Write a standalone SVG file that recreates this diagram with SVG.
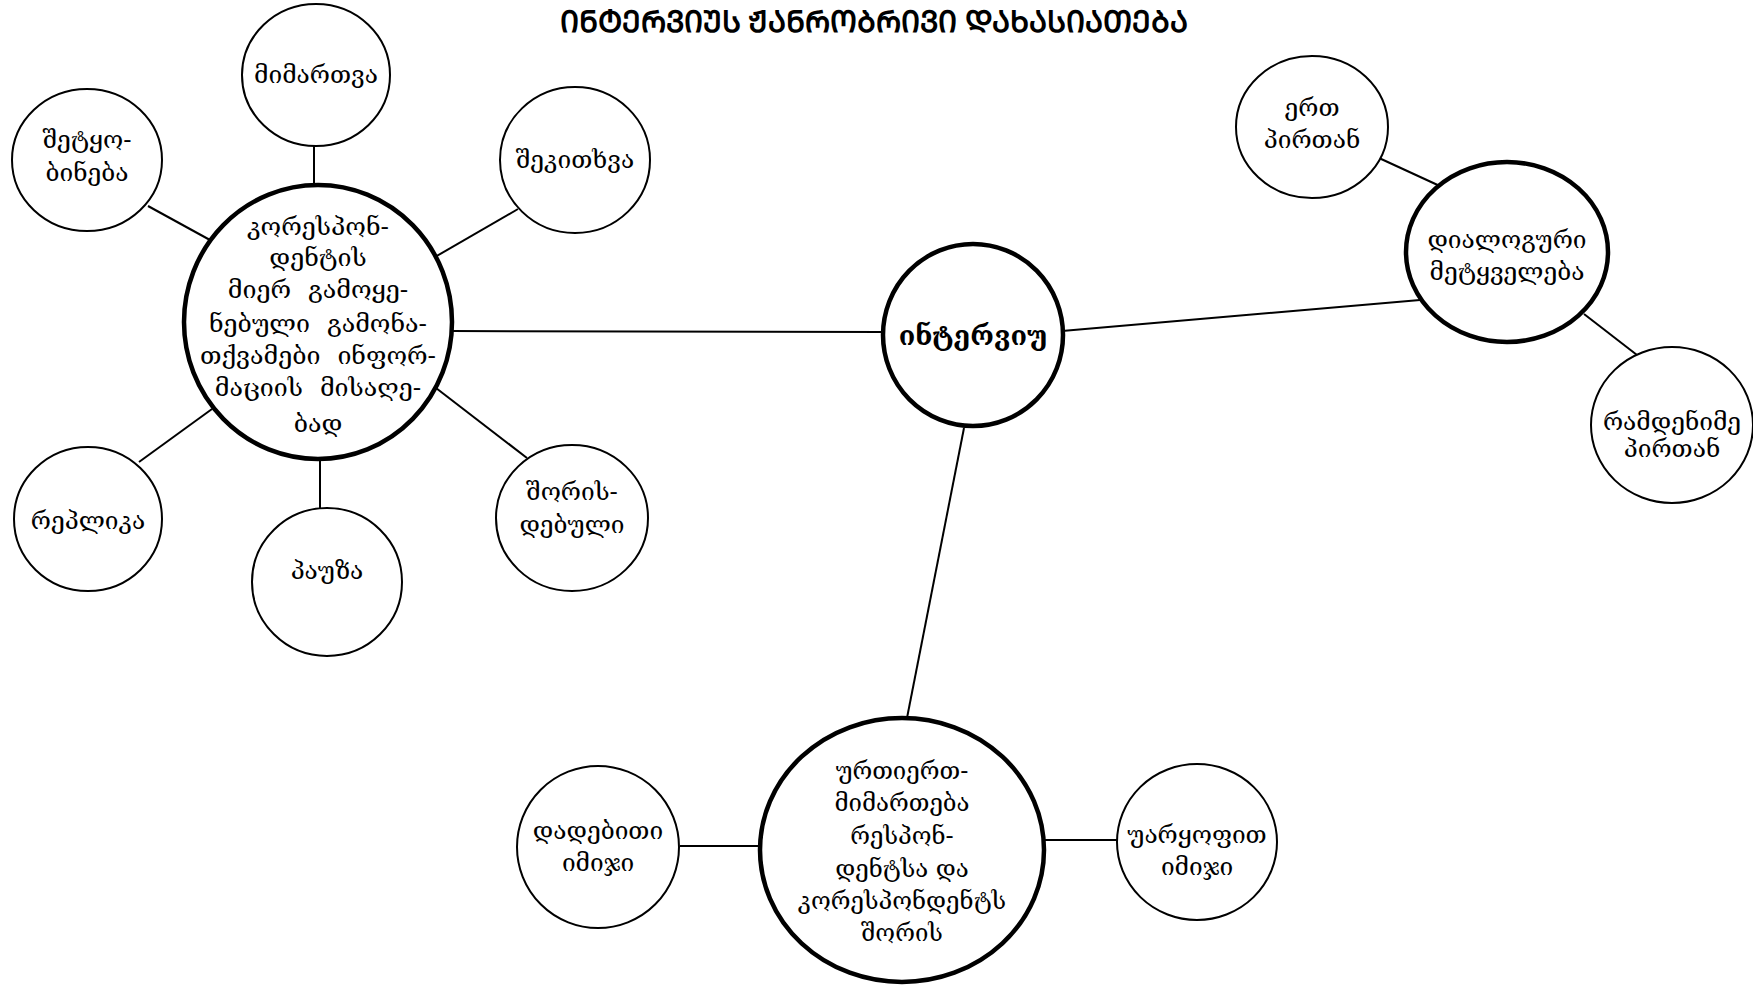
<svg xmlns="http://www.w3.org/2000/svg" width="1753" height="985" viewBox="0 0 1753 985">
<style>
.bg{fill:#fff}
.n{fill:#fff;stroke:#000;stroke-width:2}
.b{fill:#fff;stroke:#000;stroke-width:4.5}
.c{stroke:#000;stroke-width:2;fill:none}
text{font-family:"DejaVu Serif","DejaVu Sans","Noto Sans",serif;font-size:24.5px;fill:#000;text-anchor:middle}
.t{font-size:27px;font-weight:bold}
.w{font-size:25px;word-spacing:9px}
.u{font-size:24px}
.h{font-family:"Noto Sans","DejaVu Sans",sans-serif;font-size:30px;font-weight:bold}
</style>
<rect class="bg" x="0" y="0" width="1753" height="985"/>
<text class="h" x="874" y="32">ᲘᲜᲢᲔᲠᲕᲘᲣᲡ ᲟᲐᲜᲠᲝᲑᲠᲘᲕᲘ ᲓᲐᲮᲐᲡᲘᲐᲗᲔᲑᲐ</text>
<g id="connectors">
<line class="c" x1="452" y1="331" x2="882" y2="332"/>
<line class="c" x1="1062" y1="331" x2="1420" y2="300"/>
<line class="c" x1="964" y1="428" x2="906" y2="723"/>
<line class="c" x1="1379" y1="158" x2="1442" y2="187"/>
<line class="c" x1="1584" y1="314" x2="1637" y2="355"/>
<line class="c" x1="680" y1="846" x2="761" y2="846"/>
<line class="c" x1="1044" y1="840" x2="1117" y2="840"/>
<line class="c" x1="314" y1="146" x2="314" y2="186"/>
<line class="c" x1="435" y1="257" x2="518" y2="209"/>
<line class="c" x1="148" y1="206" x2="210" y2="240"/>
<line class="c" x1="139" y1="462" x2="212" y2="409"/>
<line class="c" x1="320" y1="459" x2="320" y2="509"/>
<line class="c" x1="436" y1="388" x2="527" y2="458"/>
</g>
<g id="n-main">
<ellipse class="b" cx="973" cy="335" rx="90" ry="91"/>
<text class="t" x="973" y="345">ინტერვიუ</text>
</g>
<g id="n-corr">
<ellipse class="b" cx="318" cy="322" rx="134" ry="137"/>
<text class="w" x="318" y="235">კორესპონ-</text>
<text class="w" x="318" y="266">დენტის</text>
<text class="w" x="318" y="298">მიერ გამოყე-</text>
<text class="w" x="318" y="332">ნებული გამონა-</text>
<text class="w" x="318" y="364">თქვამები ინფორ-</text>
<text class="w" x="318" y="396">მაციის მისაღე-</text>
<text class="w" x="318" y="432">ბად</text>
</g>
<g id="n-mimartva">
<ellipse class="n" cx="316" cy="75" rx="74" ry="71"/>
<text x="316" y="83">მიმართვა</text>
</g>
<g id="n-shetkobineba">
<ellipse class="n" cx="87" cy="160" rx="75" ry="71"/>
<text x="87" y="148">შეტყო-</text>
<text x="87" y="181">ბინება</text>
</g>
<g id="n-shekitkhva">
<ellipse class="n" cx="575" cy="160" rx="75" ry="73"/>
<text x="575" y="168">შეკითხვა</text>
</g>
<g id="n-replika">
<ellipse class="n" cx="88" cy="519" rx="74" ry="72"/>
<text x="88" y="529">რეპლიკა</text>
</g>
<g id="n-pauza">
<ellipse class="n" cx="327" cy="582" rx="75" ry="74"/>
<text x="327" y="579">პაუზა</text>
</g>
<g id="n-shorisdebuli">
<ellipse class="n" cx="572" cy="518" rx="76" ry="73"/>
<text x="572" y="500">შორის-</text>
<text x="572" y="533">დებული</text>
</g>
<g id="n-dialog">
<ellipse class="b" cx="1507" cy="252" rx="101" ry="90"/>
<text x="1507" y="248">დიალოგური</text>
<text x="1507" y="280">მეტყველება</text>
</g>
<g id="n-ert">
<ellipse class="n" cx="1312" cy="127" rx="76" ry="71"/>
<text x="1312" y="116">ერთ</text>
<text x="1312" y="148">პირთან</text>
</g>
<g id="n-ramdenime">
<ellipse class="n" cx="1672" cy="425" rx="81" ry="78"/>
<text x="1672" y="430">რამდენიმე</text>
<text x="1672" y="457">პირთან</text>
</g>
<g id="n-urtiert">
<ellipse class="b" cx="902" cy="850" rx="142" ry="132"/>
<text class="u" x="902" y="779">ურთიერთ-</text>
<text class="u" x="902" y="811">მიმართება</text>
<text class="u" x="902" y="844">რესპონ-</text>
<text class="u" x="902" y="877">დენტსა და</text>
<text class="u" x="902" y="909">კორესპონდენტს</text>
<text class="u" x="902" y="941">შორის</text>
</g>
<g id="n-dadebiti">
<ellipse class="n" cx="598" cy="847" rx="81" ry="81"/>
<text x="598" y="839">დადებითი</text>
<text x="598" y="871">იმიჯი</text>
</g>
<g id="n-uaryofit">
<ellipse class="n" cx="1197" cy="842" rx="80" ry="78"/>
<text x="1197" y="843">უარყოფით</text>
<text x="1197" y="875">იმიჯი</text>
</g>
</svg>
